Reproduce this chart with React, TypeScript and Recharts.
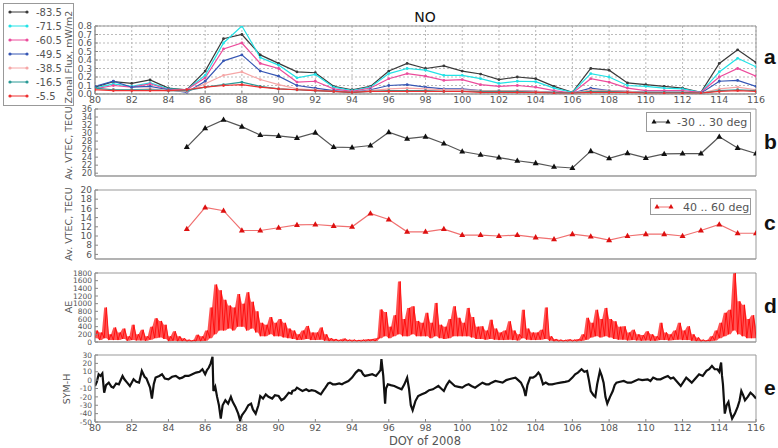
import React from "react";
import { ComposedChart, Line, Area, XAxis, YAxis, CartesianGrid, ReferenceArea } from "recharts";

// panel a: zonal flux per latitude, one value per day
const fluxDays = [80, 81, 82, 83, 84, 85, 86, 87, 88, 89, 90, 91, 92, 93, 94, 95, 96, 97, 98, 99, 100, 101, 102, 103, 104, 105, 106, 107, 108, 109, 110, 111, 112, 113, 114, 115, 116];
const fluxLabels = ["-83.5", "-71.5", "-60.5", "-49.5", "-38.5", "-16.5", "-5.5"];
const flux835 = [0.08, 0.145, 0.125, 0.165, 0.07, 0.05, 0.27, 0.65, 0.7, 0.46, 0.36, 0.26, 0.25, 0.09, 0.05, 0.09, 0.27, 0.36, 0.3, 0.33, 0.27, 0.235, 0.17, 0.2, 0.18, 0.09, 0.02, 0.3, 0.28, 0.13, 0.11, 0.09, 0.07, 0.02, 0.36, 0.52, 0.37];
const flux715 = [0.07, 0.12, 0.09, 0.13, 0.06, 0.05, 0.22, 0.6, 0.8, 0.43, 0.34, 0.19, 0.23, 0.08, 0.04, 0.08, 0.24, 0.3, 0.28, 0.22, 0.22, 0.18, 0.125, 0.15, 0.145, 0.07, 0.02, 0.24, 0.2, 0.1, 0.09, 0.07, 0.06, 0.02, 0.26, 0.42, 0.32];
const flux605 = [0.06, 0.1, 0.08, 0.12, 0.05, 0.05, 0.19, 0.53, 0.6, 0.36, 0.3, 0.14, 0.15, 0.06, 0.03, 0.07, 0.18, 0.24, 0.21, 0.16, 0.17, 0.11, 0.09, 0.1, 0.08, 0.04, 0.01, 0.18, 0.14, 0.07, 0.04, 0.04, 0.04, 0.02, 0.2, 0.3, 0.21];
const flux495 = [0.09, 0.15, 0.08, 0.09, 0.05, 0.02, 0.15, 0.39, 0.46, 0.27, 0.21, 0.1, 0.07, 0.04, 0.02, 0.05, 0.1, 0.11, 0.08, 0.06, 0.06, 0.04, 0.04, 0.04, 0.03, 0.02, 0.01, 0.07, 0.04, 0.03, 0.02, 0.02, 0.02, 0.01, 0.15, 0.16, 0.09];
const flux385 = [0.05, 0.05, 0.05, 0.06, 0.04, 0.03, 0.12, 0.22, 0.26, 0.17, 0.11, 0.06, 0.05, 0.03, 0.02, 0.04, 0.06, 0.07, 0.06, 0.05, 0.05, 0.04, 0.04, 0.04, 0.03, 0.02, 0.01, 0.05, 0.04, 0.03, 0.02, 0.02, 0.02, 0.01, 0.06, 0.08, 0.05];
const flux165 = [0.07, 0.05, 0.05, 0.05, 0.04, 0.04, 0.08, 0.11, 0.14, 0.09, 0.06, 0.05, 0.04, 0.03, 0.02, 0.03, 0.04, 0.04, 0.04, 0.03, 0.03, 0.03, 0.03, 0.03, 0.02, 0.02, 0.01, 0.03, 0.03, 0.02, 0.02, 0.02, 0.02, 0.01, 0.04, 0.05, 0.04];
const flux55 = [0.05, 0.04, 0.04, 0.04, 0.04, 0.05, 0.08, 0.1, 0.11, 0.08, 0.06, 0.05, 0.04, 0.03, 0.02, 0.03, 0.03, 0.03, 0.03, 0.03, 0.03, 0.02, 0.02, 0.02, 0.02, 0.01, 0.01, 0.02, 0.02, 0.02, 0.01, 0.01, 0.01, 0.01, 0.03, 0.04, 0.03];
const fluxColors = ["#3a3a3a", "#22e2e6", "#ec4c9c", "#3656b4", "#f6a6a6", "#2a9a96", "#ee3030"];

// panels b, c: averaged VTEC
const vtecDays = [85, 86, 87, 88, 89, 90, 91, 92, 93, 94, 95, 96, 97, 98, 99, 100, 101, 102, 103, 104, 105, 106, 107, 108, 109, 110, 111, 112, 113, 114, 115, 116];
const vtecEq = [26.5, 31.2, 33.3, 31.6, 29.5, 29.3, 28.8, 30.1, 26.5, 26.4, 26.9, 30.2, 28.6, 29.1, 27.4, 25.4, 24.6, 23.9, 23.1, 22.5, 21.6, 21.3, 25.5, 23.7, 25, 23.8, 24.8, 24.9, 24.9, 29.1, 26.3, 24.9];
const vtecMid = [11.5, 16.2, 15.5, 11.2, 11.2, 11.8, 12.4, 12.5, 12.2, 12.0, 14.9, 13.6, 10.9, 10.9, 11.5, 10.2, 10.2, 10.0, 10.2, 9.7, 9.3, 10.4, 9.9, 9.1, 10.0, 10.4, 10.4, 10.0, 11.2, 12.5, 10.6, 10.6];

// panel d: AE, low and peak of the trace in each quarter day from DOY 80
const aeLow = [
  100, 50, 100, 50, 50, 50, 80, 30, 50, 40, 40, 30, 60, 100, 120, 80,
  20, 30, 20, 20, 10, 10, 20, 20, 30, 100, 200, 300, 300, 350, 300, 400,
  400, 300, 350, 250, 150, 150, 200, 150, 150, 120, 100, 80, 50, 60, 80, 50,
  50, 60, 30, 20, 20, 20, 20, 20, 10, 10, 10, 10, 20, 20, 100, 150,
  100, 150, 200, 150, 150, 200, 150, 150, 150, 100, 150, 100, 80, 100, 150, 150,
  150, 150, 120, 80, 80, 60, 80, 60, 50, 50, 60, 50, 40, 100, 60, 50,
  50, 60, 80, 30, 15, 10, 10, 10, 10, 10, 30, 60, 120, 150, 120, 150,
  120, 80, 60, 60, 40, 50, 40, 30, 40, 30, 30, 50, 50, 40, 50, 60,
  50, 50, 30, 20, 10, 10, 20, 40, 100, 150, 200, 300, 200, 150, 100, 100,
  100,
];
const aePeak = [
  300, 250, 900, 200, 380, 250, 350, 150, 450, 200, 320, 150, 400, 620, 550, 450,
  150, 280, 150, 100, 60, 50, 190, 150, 300, 900, 1500, 1350, 1100, 950, 900, 1250,
  1000, 1300, 1050, 800, 500, 450, 650, 500, 600, 500, 350, 300, 200, 300, 420, 250,
  250, 380, 200, 100, 80, 60, 90, 60, 60, 50, 60, 70, 80, 100, 850, 780,
  400, 700, 1580, 600, 890, 930, 550, 500, 760, 500, 1020, 450, 400, 600, 930, 630,
  500, 890, 650, 400, 410, 300, 580, 350, 250, 300, 540, 300, 200, 840, 350, 250,
  250, 320, 900, 150, 80, 60, 50, 70, 60, 80, 200, 630, 500, 840, 600, 890,
  600, 540, 400, 410, 250, 320, 200, 180, 280, 200, 150, 500, 250, 200, 300, 500,
  300, 410, 200, 120, 60, 50, 150, 300, 500, 760, 840, 1800, 1060, 970, 600, 700,
  400,
];

// panel e: SYM-H, [DOY, nT]
const symH: [number, number][] = [
  [80.0, -7], [80.1, -2], [80.2, 7], [80.3, 5], [80.4, 8], [80.5, -15], [80.6, -6], [80.75, -3], [80.9, -8],
  [81.0, -9], [81.15, -4], [81.3, -5], [81.5, 5], [81.6, 1], [81.75, -3], [81.9, -7], [82.1, 1], [82.25, -2],
  [82.4, -3], [82.55, 11], [82.7, 4], [82.8, 2], [83.0, -9], [83.1, -22], [83.2, -5], [83.3, 3], [83.5, 5],
  [83.65, 7], [83.8, 2], [84.0, 1], [84.2, 4], [84.4, 5], [84.6, 2], [84.75, 3], [84.9, 5], [85.1, 5],
  [85.3, 7], [85.5, 9], [85.7, 10], [85.85, 13], [86.0, 7], [86.1, 12], [86.2, 15], [86.3, 20], [86.4, 28],
  [86.45, -13], [86.55, -8], [86.65, -20], [86.75, -30], [86.85, -46], [86.95, -30], [87.1, -24], [87.25, -28],
  [87.4, -20], [87.5, -26], [87.65, -32], [87.8, -40], [87.9, -48], [88.0, -42], [88.2, -36], [88.35, -30],
  [88.5, -28], [88.6, -35], [88.75, -40], [88.9, -30], [89.0, -19], [89.15, -22], [89.3, -17], [89.45, -20],
  [89.65, -22], [89.8, -18], [90.0, -19], [90.15, -24], [90.3, -22], [90.45, -18], [90.55, -15], [90.7, -16],
  [90.75, -13], [90.9, -12], [91.0, -9], [91.15, -11], [91.3, -13], [91.5, -11], [91.65, -13], [91.8, -12],
  [92.0, -13], [92.15, -15], [92.3, -17], [92.45, -12], [92.55, -9], [92.7, -4], [92.8, -3], [92.95, -5],
  [93.1, -5], [93.3, -4], [93.45, -5], [93.6, -3], [93.8, -1], [94.0, 3], [94.2, 9], [94.35, 12], [94.5, 11],
  [94.6, 7], [94.7, 5], [94.9, 6], [95.1, 7], [95.3, 5], [95.45, 9], [95.55, 12], [95.6, 25], [95.65, 15],
  [95.7, 5], [95.8, -28], [95.85, -10], [95.95, -5], [96.1, -6], [96.3, -7], [96.5, -9], [96.7, -11],
  [96.85, -5], [97.0, 3], [97.1, -10], [97.2, -30], [97.3, -36], [97.45, -25], [97.6, -19], [97.8, -17],
  [98.0, -15], [98.2, -12], [98.4, -11], [98.55, -9], [98.7, -7], [98.85, -10], [99.0, -13], [99.15, -6],
  [99.3, -1], [99.45, -4], [99.6, -7], [99.8, -8], [100.0, -9], [100.2, -6], [100.35, -5], [100.5, -7],
  [100.7, -9], [100.9, -6], [101.1, -3], [101.3, -5], [101.45, -5], [101.6, -3], [101.8, -1], [102.0, -2],
  [102.2, -3], [102.4, 0], [102.55, 1], [102.7, 2], [102.9, 3], [103.05, 0], [103.2, -3], [103.35, -10],
  [103.45, -19], [103.55, -6], [103.7, 3], [103.85, 3], [104.0, 5], [104.15, 9], [104.25, 6], [104.4, -5],
  [104.55, -3], [104.7, -5], [104.9, -5], [105.1, -4], [105.35, -3], [105.6, -2], [105.8, -1], [106.0, 3],
  [106.15, 7], [106.3, 9], [106.5, 13], [106.65, 10], [106.8, 11], [106.9, 0], [107.0, -13], [107.15, -18],
  [107.25, -20], [107.35, -5], [107.5, 11], [107.6, 5], [107.7, -3], [107.8, -20], [107.9, -28], [108.05, -20],
  [108.2, -13], [108.3, -6], [108.4, -3], [108.6, -2], [108.8, -1], [109.0, -3], [109.2, -3], [109.4, -1],
  [109.6, 1], [109.8, 0], [110.1, 1], [110.25, -1], [110.4, 3], [110.6, 1], [110.8, 1], [111.0, 3],
  [111.2, 5], [111.35, 2], [111.5, 3], [111.7, -2], [111.9, -7], [112.05, -2], [112.2, 3], [112.35, 0],
  [112.5, -3], [112.7, 2], [112.9, 7], [113.1, 5], [113.3, 11], [113.45, 13], [113.6, 17], [113.75, 13],
  [113.9, 13], [114.0, 10], [114.1, 21], [114.15, 5], [114.2, -5], [114.3, -40], [114.4, -30], [114.5, -26],
  [114.6, -38], [114.7, -46], [114.85, -40], [115.0, -32], [115.1, -25], [115.2, -13], [115.3, -18],
  [115.4, -24], [115.55, -20], [115.7, -15], [115.85, -18], [116.0, -22],
];

const twoDayTicks = [80, 82, 84, 86, 88, 90, 92, 94, 96, 98, 100, 102, 104, 106, 108, 110, 112, 114, 116];
const fiveDayTicks = [80, 85, 90, 95, 100, 105, 110, 115];
const fluxTicks = [0, 0.1, 0.2, 0.3, 0.4, 0.5, 0.6, 0.7, 0.8];
const vtecEqTicks = [20, 22, 24, 26, 28, 30, 32, 34, 36];
const vtecMidTicks = [6, 8, 10, 12, 14, 16, 18, 20];
const aeTicks = [0, 200, 400, 600, 800, 1000, 1200, 1400, 1600, 1800];
const symTicks = [-50, -40, -30, -20, -10, 0, 10, 20, 30];

const fluxSeries = [flux835, flux715, flux605, flux495, flux385, flux165, flux55];
const fluxData = fluxDays.map((day, i) => {
  const row: Record<string, number> = { day };
  fluxSeries.forEach((s, k) => (row["f" + k] = s[i]));
  return row;
});
const vtecData = vtecDays.map((day, i) => ({ day, eq: vtecEq[i], mid: vtecMid[i] }));
const aeData: { day: number; ae: number; band: [number, number] }[] = [];
aeLow.forEach((lo, i) => {
  const t = 80 + i * 0.25;
  aeData.push({ day: t, ae: lo, band: [lo, aePeak[i]] });
  if (t < 116) aeData.push({ day: t + 0.125, ae: aePeak[i], band: [lo, aePeak[i]] });
});
const symData = symH.map(([day, v]) => ({ day, v }));

const FONT = "DejaVu Sans, sans-serif";
const GREY = "#555";
const W = 778;
const H = 448;

const tri = (color: string) => (p: any) => (
  <path
    key={`tri-${p.index}`}
    d={`M${p.cx},${p.cy - 3.3}L${p.cx + 3},${p.cy + 2}L${p.cx - 3},${p.cy + 2}Z`}
    fill={color}
  />
);

function panel(
  top: number,
  bottom: number,
  data: any[],
  yDomain: [number, number],
  yTicks: number[],
  xTicks: number[],
  xLabels: boolean,
  yFont: number,
  yFmt: (v: number) => string,
  children: React.ReactNode
) {
  return (
    <div style={{ position: "absolute", left: 0, top: 0 }}>
      <ComposedChart width={W} height={H} data={data} margin={{ top, right: W - 756, bottom: 0, left: 0 }}>
        {children}
        <XAxis
          dataKey="day"
          type="number"
          domain={[80, 116]}
          ticks={xTicks}
          interval={0}
          allowDataOverflow
          height={H - bottom}
          axisLine={{ stroke: "#999" }}
          tickLine={{ stroke: "#888" }}
          tickSize={-3}
          tickMargin={5}
          tick={xLabels ? { fontSize: 9.5, fill: GREY, fontFamily: FONT } : false}
        />
        <YAxis
          type="number"
          domain={yDomain}
          ticks={yTicks}
          interval={0}
          allowDataOverflow
          width={95}
          axisLine={{ stroke: "#999" }}
          tickLine={{ stroke: "#888" }}
          tickSize={-3}
          tickMargin={6}
          tickFormatter={yFmt}
          tick={{ fontSize: yFont, fill: GREY, fontFamily: FONT }}
        />
        <ReferenceArea
          x1={80}
          x2={116}
          y1={yDomain[0]}
          y2={yDomain[1]}
          fill="none"
          stroke="#999"
          ifOverflow="visible"
        />
      </ComposedChart>
    </div>
  );
}

function VLabel({ text, x, y }: { text: string; x: number; y: number }) {
  return (
    <div
      style={{
        position: "absolute",
        left: x,
        top: y,
        transform: "translate(-50%, -50%) rotate(-90deg)",
        whiteSpace: "nowrap",
        fontFamily: FONT,
        fontSize: 9.5,
        color: GREY,
      }}
    >
      {text}
    </div>
  );
}

function Letter({ t, y }: { t: string; y: number }) {
  return (
    <div
      style={{
        position: "absolute",
        left: 764,
        top: y - 13,
        fontFamily: "Liberation Sans, Arial, sans-serif",
        fontWeight: "bold",
        fontSize: 21,
        color: "#111",
      }}
    >
      {t}
    </div>
  );
}

export default function App() {
  return (
    <div style={{ position: "absolute", left: 0, top: 0, width: W, height: H, background: "#fff", overflow: "hidden" }}>
      {panel(26, 94, fluxData, [0, 0.8], fluxTicks, twoDayTicks, true, 9, (v) => v.toFixed(1), [
        <CartesianGrid key="g" stroke="#bbb" strokeDasharray="2 2" />,
        ...fluxColors.map((c, k) => (
          <Line
            key={"f" + k}
            dataKey={"f" + k}
            stroke={c}
            strokeWidth={1.2}
            dot={{ r: 1.4, fill: c, stroke: c, strokeWidth: 0 }}
            isAnimationActive={false}
          />
        )),
      ])}
      {panel(109, 176, vtecData, [19.3, 36], vtecEqTicks, fiveDayTicks, false, 8, (v) => String(v), [
        <Line key="eq" dataKey="eq" stroke="#555" strokeWidth={1.2} dot={tri("#111")} isAnimationActive={false} />,
      ])}
      {panel(190, 259, vtecData, [5, 20], vtecMidTicks, fiveDayTicks, false, 9, (v) => String(v), [
        <Line key="mid" dataKey="mid" stroke="#f07070" strokeWidth={1.2} dot={tri("#dd1010")} isAnimationActive={false} />,
      ])}
      {panel(273, 342, aeData, [0, 1800], aeTicks, fiveDayTicks, false, 7.5, (v) => String(v), [
        <Area
          key="band"
          dataKey="band"
          stroke="none"
          fill="#ff1a1a"
          fillOpacity={0.75}
          isAnimationActive={false}
        />,
        <Line key="ae" dataKey="ae" stroke="#ff0000" strokeWidth={0.8} dot={false} isAnimationActive={false} />,
      ])}
      {panel(355, 422, symData, [-50, 30], symTicks, twoDayTicks, true, 7.5, (v) => String(v), [
        <Line key="v" dataKey="v" stroke="#111" strokeWidth={2.2} dot={false} isAnimationActive={false} />,
      ])}

      {/* panel a legend */}
      <svg style={{ position: "absolute", left: 0, top: 0 }} width={80} height={110}>
        <rect x={3.5} y={3.5} width={70} height={102} fill="#fff" stroke="#999" />
        {fluxLabels.map((name, i) => {
          const y = 12 + i * 14;
          const c = fluxColors[i];
          return (
            <g key={name}>
              <line x1={10} x2={27} y1={y} y2={y} stroke={c} strokeWidth={1} />
              <circle cx={10} cy={y} r={1.6} fill={c} />
              <circle cx={27} cy={y} r={1.6} fill={c} />
              <text x={36} y={y + 3.5} fontSize={10} fill={GREY} fontFamily={FONT}>
                {name}
              </text>
            </g>
          );
        })}
      </svg>

      {/* panel b legend */}
      <svg style={{ position: "absolute", left: 646, top: 112 }} width={106} height={22}>
        <rect x={0.5} y={0.5} width={104} height={19} fill="#fff" stroke="#999" />
        <line x1={8} x2={22} y1={10} y2={10} stroke="#555" />
        <path d="M8,7L10.5,11.5L5.5,11.5Z" fill="#111" />
        <path d="M22,7L24.5,11.5L19.5,11.5Z" fill="#111" />
        <text x={31} y={14} fontSize={11} fill={GREY} fontFamily={FONT}>
          -30 .. 30 deg
        </text>
      </svg>

      {/* panel c legend */}
      <svg style={{ position: "absolute", left: 650, top: 198 }} width={102} height={22}>
        <rect x={0.5} y={0.5} width={100} height={16} fill="#fff" stroke="#999" />
        <line x1={7} x2={21} y1={9} y2={9} stroke="#f07070" />
        <path d="M7,6L9.5,10.5L4.5,10.5Z" fill="#dd1010" />
        <path d="M21,6L23.5,10.5L18.5,10.5Z" fill="#dd1010" />
        <text x={33} y={13} fontSize={11} fill={GREY} fontFamily={FONT}>
          40 .. 60 deg
        </text>
      </svg>

      <div
        style={{
          position: "absolute",
          left: 425,
          top: 17,
          transform: "translate(-50%, -50%)",
          fontFamily: FONT,
          fontSize: 14,
          color: "#111",
        }}
      >
        NO
      </div>
      <div
        style={{
          position: "absolute",
          left: 425,
          top: 441,
          transform: "translate(-50%, -50%)",
          fontFamily: FONT,
          fontSize: 11.5,
          color: GREY,
          whiteSpace: "nowrap",
        }}
      >
        DOY of 2008
      </div>

      <VLabel text="Zonal Flux, mW/m2" x={68} y={57} />
      <VLabel text="Av. VTEC, TECU" x={68} y={143} />
      <VLabel text="Av. VTEC, TECU" x={68} y={224} />
      <VLabel text="AE" x={68} y={307} />
      <VLabel text="SYM-H" x={66} y={389} />

      <Letter t="a" y={58} />
      <Letter t="b" y={143} />
      <Letter t="c" y={224} />
      <Letter t="d" y={307} />
      <Letter t="e" y={389} />
    </div>
  );
}
